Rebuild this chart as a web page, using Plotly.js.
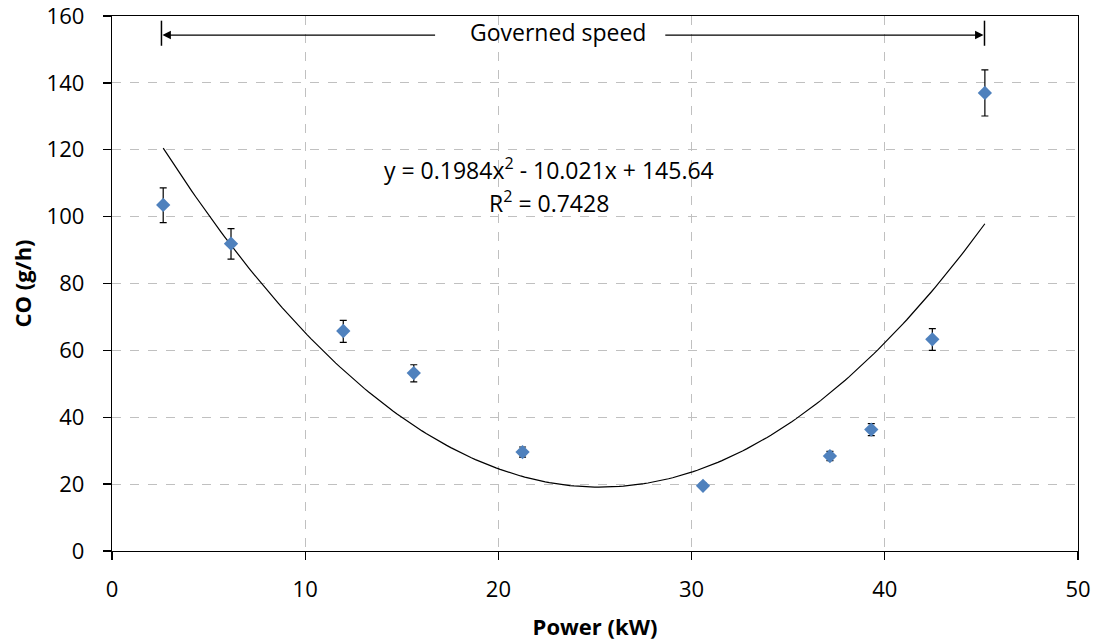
<!DOCTYPE html>
<html>
<head>
<meta charset="utf-8">
<script src="https://cdn.plot.ly/plotly-3.0.1.min.js"></script>
<style>html,body{margin:0;padding:0;background:#fff;}#chart{width:1103px;height:643px;}</style>
</head>
<body>
<div id="chart"></div>
<script>
// Data
const power = [2.65, 6.16, 11.97, 15.62, 21.25, 30.59, 37.16, 39.3, 42.46, 45.18];
const co = [103.5, 91.9, 65.8, 53.2, 29.6, 19.5, 28.4, 36.3, 63.3, 137.0];
const errPlus = [5.1, 4.5, 3.2, 2.5, 1.5, 0.8, 1.4, 1.8, 3.2, 6.9];
const errMinus = [5.3, 4.6, 3.4, 2.6, 1.5, 0.8, 1.4, 1.8, 3.3, 6.9];
// Trendline coefficients shown on the chart: y = a x^2 + b x + c
const trendCoef = [0.1984, -10.021, 145.64];
const eqText = "y = 0.1984x<sup>2</sup> - 10.021x + 145.64";
const r2Text = "R<sup>2</sup> = 0.7428";
const governedRange = [2.56, 45.16];
const governedLabel = "Governed speed";
const xTicks = [0, 10, 20, 30, 40, 50];
const yTicks = [0, 20, 40, 60, 80, 100, 120, 140, 160];

const xMin = Math.min(...power), xMax = Math.max(...power);
const tx = [], ty = [];
const nSteps = 200;
for (let i = 0; i <= nSteps; i++) {
  const x = xMin + (xMax - xMin) * i / nSteps;
  tx.push(x);
  ty.push(trendCoef[0] * x * x + trendCoef[1] * x + trendCoef[2]);
}

const font = "Open Sans, Noto Sans, Liberation Sans, sans-serif";

const traces = [
  {
    x: tx, y: ty, type: 'scatter', mode: 'lines',
    line: {color: '#000000', width: 1.2}, hoverinfo: 'skip', showlegend: false
  },
  {
    x: power, y: co, type: 'scatter', mode: 'markers',
    marker: {symbol: 'diamond', size: 11, color: '#4F81BD'},
    error_y: {type: 'data', symmetric: false, array: errPlus, arrayminus: errMinus,
      color: '#000000', thickness: 1.2, width: 3.5},
    showlegend: false
  }
];

const arrowY = 154.3;
const layout = {
  width: 1103, height: 643,
  margin: {l: 112, r: 25, t: 16, b: 92},
  paper_bgcolor: '#ffffff', plot_bgcolor: '#ffffff',
  font: {family: font, size: 22, color: '#000000'},
  xaxis: {
    range: [0, 50], tickvals: xTicks, ticktext: xTicks.map(String),
    showgrid: true, gridcolor: '#c0c0c0', griddash: 'dash', gridwidth: 1,
    showline: true, linecolor: '#000000', linewidth: 1.3, mirror: true,
    ticks: 'outside', ticklen: 8, tickcolor: '#000000', tickwidth: 1.3,
    ticklabelstandoff: 10, ticklabeloverflow: 'allow',
    zeroline: false, tickfont: {size: 22, family: font},
    title: {text: '<b>Power (kW)</b>', font: {size: 22, family: font}, standoff: 18}
  },
  yaxis: {
    range: [0, 160], tickvals: yTicks, ticktext: yTicks.map(String),
    showgrid: true, gridcolor: '#c0c0c0', griddash: 'dash', gridwidth: 1,
    showline: true, linecolor: '#000000', linewidth: 1.3, mirror: true,
    ticks: 'outside', ticklen: 8, tickcolor: '#000000', tickwidth: 1.3,
    ticklabelstandoff: 14, ticklabeloverflow: 'allow',
    zeroline: false, tickfont: {size: 22, family: font},
    title: {text: '<b>CO (g/h)</b>', font: {size: 22, family: font}, standoff: 8}
  },
  shapes: [
    {type: 'line', xref: 'x', yref: 'y', x0: governedRange[0], x1: governedRange[0], y0: 151.1, y1: 158.6,
      line: {color: '#000000', width: 1.5}},
    {type: 'line', xref: 'x', yref: 'y', x0: governedRange[1], x1: governedRange[1], y0: 151.1, y1: 158.6,
      line: {color: '#000000', width: 1.5}}
  ],
  annotations: [
    {x: governedRange[0] + 0.05, y: arrowY, ax: 16.8, ay: arrowY, xref: 'x', yref: 'y', axref: 'x', ayref: 'y',
      showarrow: true, arrowhead: 2, arrowsize: 1.3, arrowwidth: 1.3, arrowcolor: '#000000', text: ''},
    {x: governedRange[1] - 0.05, y: arrowY, ax: 28.56, ay: arrowY, xref: 'x', yref: 'y', axref: 'x', ayref: 'y',
      showarrow: true, arrowhead: 2, arrowsize: 1.3, arrowwidth: 1.3, arrowcolor: '#000000', text: ''},
    {x: 23.07, y: arrowY + 0.8, xref: 'x', yref: 'y', text: governedLabel, showarrow: false,
      font: {size: 23, family: font, color: '#000000'}},
    {x: 22.6, y: 114.2, xref: 'x', yref: 'y', text: eqText, showarrow: false,
      font: {size: 23, family: font, color: '#000000'}},
    {x: 22.6, y: 104.4, xref: 'x', yref: 'y', text: r2Text, showarrow: false,
      font: {size: 23, family: font, color: '#000000'}}
  ]
};

Plotly.newPlot('chart', traces, layout, {displayModeBar: false, staticPlot: true});
</script>
</body>
</html>
